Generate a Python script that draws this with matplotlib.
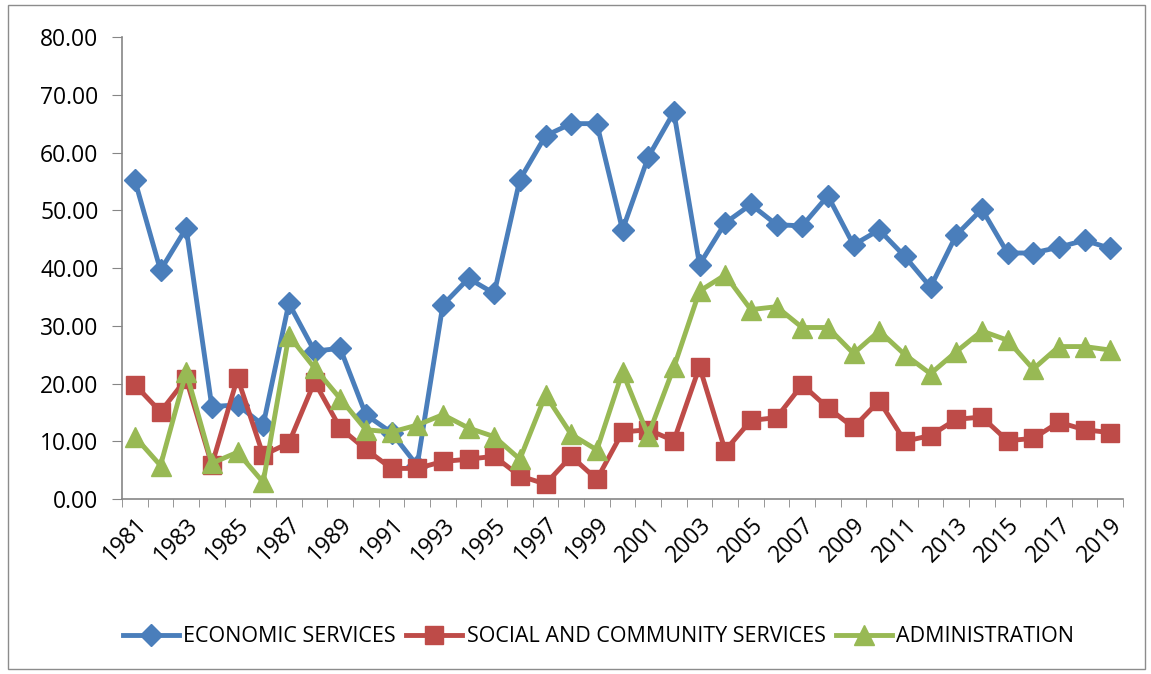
import matplotlib
matplotlib.use('Agg')
import matplotlib.pyplot as plt
import numpy as np
from matplotlib.patches import Rectangle

years = list(range(1981, 2020))

economic = [55.2, 39.6, 46.9, 16.0, 16.3, 12.8, 33.9, 25.6, 26.1, 14.6,
            11.5, 5.8, 33.6, 38.2, 35.6, 55.3, 62.9, 65.0, 65.0, 46.6,
            59.2, 67.0, 40.6, 47.8, 51.0, 47.5, 47.3, 52.5, 44.0, 46.6,
            42.0, 36.7, 45.7, 50.2, 42.6, 42.6, 43.6, 44.8, 43.4]
social = [19.8, 15.1, 20.8, 5.9, 21.0, 7.6, 9.7, 20.3, 12.3, 8.6,
          5.3, 5.3, 6.5, 6.9, 7.4, 4.0, 2.6, 7.4, 3.4, 11.6,
          12.0, 10.1, 22.9, 8.4, 13.6, 14.1, 19.8, 15.8, 12.4, 17.0,
          10.0, 11.0, 13.8, 14.2, 10.1, 10.5, 13.3, 12.0, 11.5]
admin = [10.8, 5.8, 22.0, 6.2, 8.1, 2.9, 28.3, 22.7, 17.4, 12.0,
         11.6, 12.8, 14.6, 12.3, 10.8, 6.9, 18.0, 11.2, 8.5, 22.0,
         11.0, 22.8, 36.0, 38.8, 32.8, 33.3, 29.7, 29.7, 25.2, 29.1,
         25.0, 21.7, 25.5, 29.1, 27.5, 22.5, 26.4, 26.4, 25.8]

plt.rcParams['font.family'] = ['Open Sans', 'DejaVu Sans']

fig = plt.figure(figsize=(11.51, 6.74), dpi=100)
ax = fig.add_axes([0.106, 0.2596, 0.8697, 0.6855])

# outer chart frame
fig.patches.append(Rectangle((0.007, 0.008), 0.988, 0.985, transform=fig.transFigure,
                             fill=False, edgecolor='#8c8c8c', linewidth=1))

x = np.arange(len(years))
ax.plot(x, economic, color='#4A7EBB', lw=3.5, marker='D', ms=11,
        label='ECONOMIC SERVICES', zorder=3)
ax.plot(x, social, color='#BE4B48', lw=3.5, marker='s', ms=13,
        label='SOCIAL AND COMMUNITY SERVICES', zorder=4)
ax.plot(x, admin, color='#98B954', lw=3.5, marker='^', ms=14,
        label='ADMINISTRATION', zorder=5)

ax.set_xlim(-0.5, len(years) - 0.5)
ax.set_ylim(0, 80)
ax.set_yticks(np.arange(0, 81, 10))
ax.set_yticklabels([f'{v:.2f}' for v in np.arange(0, 81, 10)], fontsize=16.5)

ax.set_xticks(x[::2])
ax.set_xticklabels([str(y) for y in years[::2]], rotation=45, fontsize=16.5,
                   ha='right', va='top', rotation_mode='anchor')
ax.set_xticks(np.arange(-0.5, len(years) + 0.5, 1), minor=True)
ax.tick_params(axis='x', which='major', length=0, pad=10)
ax.tick_params(axis='x', which='minor', length=6, color='#868686')
ax.tick_params(axis='y', length=7, color='#868686', pad=10)

for s in ['top', 'right']:
    ax.spines[s].set_visible(False)
for s in ['left', 'bottom']:
    ax.spines[s].set_color('#868686')
    ax.spines[s].set_linewidth(1.2)

fig.legend(loc='center', bbox_to_anchor=(0.52, 0.055), ncol=3, frameon=False,
           fontsize=15.5, handlelength=2.6, columnspacing=0.5, handletextpad=0.2)

fig.savefig('out.png', dpi=100)
